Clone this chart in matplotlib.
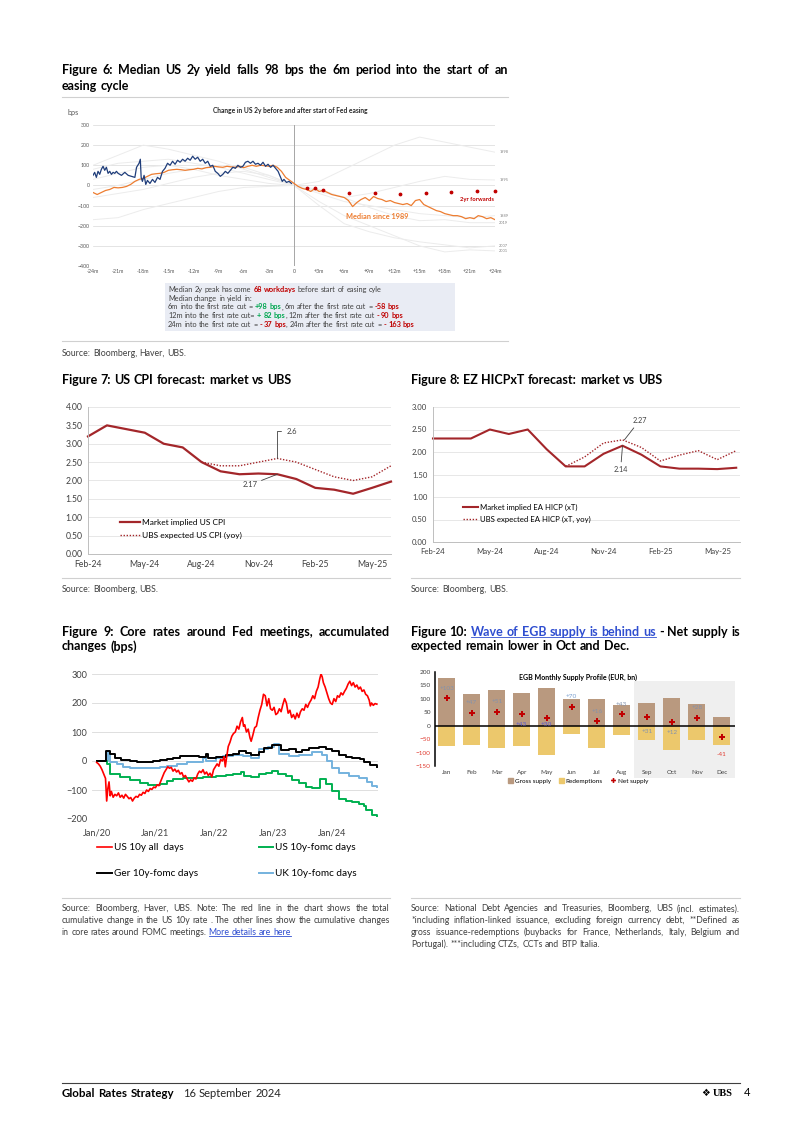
import matplotlib
matplotlib.use("Agg")
import matplotlib.pyplot as plt
from matplotlib.lines import Line2D
from matplotlib.patches import Patch

# -----------------------------------
# Datos - Figure 6 (US 2y around first Fed cut, bps)
# -----------------------------------
cyc_m = [-24, -21, -18, -15, -12, -9, -6, -3, 0, 3, 6, 9, 12, 15, 18, 21, 24]
cyc_names = ["1998", "1995", "1989", "2019", "2007", "2001"]
c1998 = [-60, -40, -20, 10, 40, 60, 70, 50, 0, 20, 80, 140, 200, 240, 215, 190, 165]
c1995 = [100, 150, 200, 180, 150, 120, 80, 40, 0, -30, -60, -40, -10, 20, 45, 30, 27]
c1989 = [80, 110, 120, 130, 110, 90, 60, 30, 0, -40, -80, -100, -120, -140, -150, -160, -150]
c2019 = [30, 60, 90, 100, 80, 50, 30, 10, 0, -20, -60, -110, -150, -175, -170, -185, -185]
c2007 = [-20, 0, 30, 60, 80, 100, 90, 50, 0, -100, -190, -230, -260, -280, -295, -310, -300]
c2001 = [-170, -160, -120, -90, -60, -30, -10, -5, 0, -80, -150, -200, -250, -300, -330, -320, -325]
cycles = [c1998, c1995, c1989, c2019, c2007, c2001]

cur_m = [-24.0, -23.8, -23.6, -23.4, -23.2, -23.0, -22.8, -22.6, -22.4, -22.2, -22.0, -21.8,
         -21.6, -21.4, -21.2, -21.0, -20.6, -20.2, -19.8, -19.4, -19.0, -18.8, -18.5, -18.35,
         -18.25, -18.1, -17.9, -17.7, -17.5, -17.2, -16.9, -16.6, -16.3, -16.0, -15.7, -15.4,
         -15.1, -14.8, -14.5, -14.2, -13.9, -13.6, -13.3, -13.0, -12.7, -12.4, -12.1, -11.8,
         -11.5, -11.2, -10.9, -10.6, -10.3, -10.0, -9.7, -9.4, -9.1, -8.8, -8.5, -8.2, -7.9,
         -7.6, -7.3, -7.0, -6.7, -6.4, -6.1, -5.8, -5.5, -5.2, -4.9, -4.6, -4.3, -4.0, -3.7,
         -3.4, -3.1, -2.8, -2.5, -2.2, -1.9, -1.6, -1.4, -1.2, -0.9, -0.6, -0.3]
cur_bps = [50, 65, 40, 70, 55, 80, 95, 75, 90, 60, 70, 55,
           65, 60, 70, 60, 50, 65, 50, 45, 40, 90, 110, 130,
           40, 20, 50, 5, 25, 10, 30, 15, 40, 30, 70, 85,
           110, 100, 120, 105, 125, 115, 130, 120, 135, 125, 145, 130,
           140, 120, 130, 110, 120, 95, 100, 70, 60, 45, 55, 70, 60,
           75, 90, 85, 100, 90, 95, 115, 120, 110, 120, 105, 110, 100, 115,
           95, 105, 90, 100, 85, 70, 40, 20, 30, 15, 20, 10]

med_m = [-24, -23.5, -23, -22.5, -22, -21.5, -21, -20.5, -20, -19.5, -19, -18.5, -18, -17.5,
         -17, -16.5, -16, -15.5, -15, -14.5, -14, -13.5, -13, -12.5, -12, -11.5, -11, -10.5,
         -10, -9.5, -9, -8.5, -8, -7.5, -7, -6.5, -6, -5.5, -5, -4.5, -4, -3.5, -3, -2.5, -2,
         -1.5, -1, -0.5, 0, 0.5, 1, 1.5, 2, 2.5, 3, 3.5, 4, 4.5, 5, 5.5, 6, 6.5, 7, 7.5, 8,
         8.5, 9, 9.5, 10, 10.5, 11, 11.5, 12, 12.5, 13, 13.5, 14, 14.5, 15, 15.5, 16, 16.5,
         17, 17.5, 18, 18.5, 19, 19.5, 20, 20.5, 21, 21.5, 22, 22.5, 23, 23.5, 24]
med_bps = [-35, -45, -35, -25, -20, -10, -12, -10, -5, 5, 20, 30, 35, 45,
           55, 58, 60, 65, 75, 78, 80, 78, 75, 78, 80, 85, 82, 88,
           90, 95, 92, 90, 95, 92, 90, 95, 88, 95, 100, 95, 100, 98, 95, 100, 90,
           70, 40, 25, 10, -5, -15, -20, -30, -15, -30, -25, -35, -45, -50, -55, -60, -75, -105, -85, -70,
           -60, -75, -55, -65, -70, -80, -75, -85, -90, -95, -90, -100, -75, -70, -95, -105, -115,
           -125, -130, -140, -145, -150, -150, -155, -165, -160, -165, -150, -155, -165, -160, -170]

fwd_m = [1.5, 2.5, 3.5, 6.6, 9.7, 12.7, 15.8, 18.8, 21.9, 24.0]
fwd_bps = [-12, -15, -25, -38, -40, -43, -40, -35, -30, -28]

# -----------------------------------
# Datos - Figures 7 y 8 (inflation forecasts, %)
# -----------------------------------
meses = ["Feb-24", "Mar-24", "Apr-24", "May-24", "Jun-24", "Jul-24", "Aug-24", "Sep-24",
         "Oct-24", "Nov-24", "Dec-24", "Jan-25", "Feb-25", "Mar-25", "Apr-25", "May-25", "Jun-25"]
us_mkt = [3.20, 3.50, 3.40, 3.30, 3.00, 2.90, 2.50, 2.25, 2.17, 2.19, 2.17, 2.04, 1.80, 1.75, 1.64, 1.80, 1.97]
us_ubs = [2.50, 2.40, 2.40, 2.50, 2.60, 2.50, 2.30, 2.10, 2.00, 2.10, 2.40]          # from Aug-24
ea_mkt = [2.30, 2.30, 2.30, 2.50, 2.40, 2.50, 2.06, 1.68, 1.68, 1.96, 2.14, 1.94, 1.68, 1.63, 1.63, 1.62, 1.65]
ea_ubs = [1.68, 1.89, 2.20, 2.27, 2.10, 1.80, 1.93, 2.03, 1.83, 2.03]                # from Sep-24

# -----------------------------------
# Datos - Figure 9 (cumulative change, bps)
# -----------------------------------
us_all_t = [2020.00, 2020.03, 2020.06, 2020.09, 2020.12, 2020.15, 2020.17, 2020.19, 2020.21, 2020.23,
            2020.25, 2020.28, 2020.31, 2020.34, 2020.37, 2020.40, 2020.43, 2020.46, 2020.49, 2020.52,
            2020.55, 2020.58, 2020.61, 2020.64, 2020.67, 2020.70, 2020.73, 2020.76, 2020.79, 2020.82,
            2020.85, 2020.88, 2020.91, 2020.94, 2020.97, 2021.00, 2021.03, 2021.06, 2021.09, 2021.12,
            2021.15, 2021.18, 2021.21, 2021.24, 2021.27, 2021.30, 2021.33, 2021.36, 2021.39, 2021.42,
            2021.45, 2021.48, 2021.51, 2021.54, 2021.57, 2021.60, 2021.63, 2021.66, 2021.69, 2021.72,
            2021.75, 2021.78, 2021.81, 2021.84, 2021.87, 2021.90, 2021.93, 2021.96, 2021.99, 2022.02,
            2022.05, 2022.08, 2022.11, 2022.14, 2022.17, 2022.19, 2022.21, 2022.24, 2022.27, 2022.30,
            2022.33, 2022.36, 2022.39, 2022.42, 2022.45, 2022.48, 2022.50, 2022.52, 2022.55, 2022.58,
            2022.61, 2022.63, 2022.66, 2022.69, 2022.72, 2022.75, 2022.78, 2022.81, 2022.84, 2022.87,
            2022.90, 2022.93, 2022.96, 2022.99, 2023.02, 2023.05, 2023.08, 2023.11, 2023.14, 2023.17,
            2023.20, 2023.23, 2023.26, 2023.29, 2023.32, 2023.35, 2023.38, 2023.41, 2023.44, 2023.47,
            2023.50, 2023.53, 2023.56, 2023.59, 2023.62, 2023.65, 2023.68, 2023.71, 2023.74, 2023.77,
            2023.80, 2023.82, 2023.84, 2023.86, 2023.89, 2023.92, 2023.95, 2023.98, 2024.01, 2024.04,
            2024.07, 2024.10, 2024.13, 2024.16, 2024.19, 2024.22, 2024.25, 2024.28, 2024.31, 2024.34,
            2024.37, 2024.40, 2024.43, 2024.46, 2024.49, 2024.52, 2024.55, 2024.58, 2024.61, 2024.64,
            2024.66, 2024.68, 2024.71, 2024.74, 2024.77]
us_all_v = [-5, -10, -18, -30, -45, -60, -138, -95, -72, -120,
            -105, -125, -115, -120, -110, -125, -118, -128, -115, -122,
            -130, -126, -138, -128, -122, -125, -115, -118, -108, -112,
            -100, -105, -95, -98, -90, -92, -82, -85, -70, -55,
            -40, -30, -20, -25, -22, -35, -28, -38, -32, -45,
            -40, -55, -50, -62, -72, -65, -70, -58, -62, -45,
            -35, -40, -30, -45, -38, -50, -42, -55, -30, -20,
            -10, -18, 5, 0, 15, -20, 10, 50, 65, 85,
            95, 100, 120, 110, 135, 150, 120, 125, 100, 110,
            80, 68, 90, 115, 120, 150, 175, 195, 230, 225,
            190, 215, 180, 175, 185, 160, 165, 180, 170, 195,
            215, 200, 165, 175, 150, 160, 145, 165, 150, 170,
            180, 175, 195, 185, 200, 210, 225, 215, 240, 255,
            285, 300, 290, 270, 255, 235, 215, 200, 195, 215,
            205, 225, 220, 235, 228, 240, 250, 265, 275, 260,
            270, 255, 262, 248, 255, 240, 245, 230, 225, 210,
            190, 200, 192, 198, 196]

us_fomc_t = [2020.00, 2020.17, 2020.23, 2020.40, 2020.56, 2020.73, 2020.88, 2021.07, 2021.19, 2021.30,
             2021.47, 2021.64, 2021.81, 2022.03, 2022.20, 2022.32, 2022.46, 2022.51, 2022.63, 2022.77,
             2022.88, 2022.99, 2023.08, 2023.22, 2023.33, 2023.45, 2023.56, 2023.67, 2023.81, 2023.90,
             2024.01, 2024.12, 2024.24, 2024.35, 2024.46, 2024.55, 2024.58, 2024.69, 2024.77]
us_fomc_v = [0, -10, -45, -55, -65, -75, -83, -78, -70, -62,
             -58, -58, -55, -52, -48, -45, -38, -50, -55, -45,
             -40, -35, -45, -52, -65, -75, -88, -92, -62, -80,
             -105, -130, -138, -142, -148, -155, -170, -185, -190]

ger_t = [2020.00, 2020.16, 2020.23, 2020.31, 2020.42, 2020.56, 2020.68, 2020.96, 2021.07, 2021.19,
         2021.30, 2021.41, 2021.75, 2021.86, 2021.90, 2022.03, 2022.20, 2022.32, 2022.43, 2022.54,
         2022.63, 2022.77, 2022.85, 2022.99, 2023.14, 2023.28, 2023.39, 2023.50, 2023.62, 2023.79,
         2023.90, 2024.01, 2024.12, 2024.24, 2024.35, 2024.49, 2024.55, 2024.66, 2024.77]
ger_v = [0, 35, 25, 12, 5, 0, -3, 0, 3, 8,
         12, 18, 15, 25, 12, 15, 20, 25, 35, 28,
         20, 30, 45, 55, 38, 40, 30, 38, 45, 48,
         42, 35, 22, 15, 10, 8, -5, -15, -22]

uk_t = [2020.00, 2020.17, 2020.20, 2020.23, 2020.34, 2020.45, 2020.56, 2021.07, 2021.19, 2021.36,
        2021.53, 2021.69, 2021.81, 2021.86, 2022.03, 2022.15, 2022.32, 2022.49, 2022.63, 2022.77,
        2022.91, 2023.02, 2023.11, 2023.28, 2023.45, 2023.67, 2023.84, 2023.93, 2024.01, 2024.12,
        2024.29, 2024.46, 2024.60, 2024.69, 2024.77]
uk_v = [0, 0, 30, -2, -10, -20, -25, -22, -18, -12,
        -5, -2, 10, 0, 10, 18, 20, 18, 12, 42,
        50, 58, 25, 18, 22, 30, 20, 0, -25, -40,
        -50, -60, -72, -85, -88]

# -----------------------------------
# Datos - Figure 10 (EGB supply, EUR bn)
# -----------------------------------
meses_egb = ["Jan", "Feb", "Mar", "Apr", "May", "Jun", "Jul", "Aug", "Sep", "Oct", "Nov", "Dec"]
gross = [178, 118, 133, 120, 139, 101, 98, 77, 85, 103, 81, 31]
redemp = [-75, -71, -82, -76, -108, -31, -82, -35, -54, -92, -52, -71]
net = [103, 47, 51, 43, 30, 70, 16, 43, 31, 12, 28, -41]

# -----------------------------------
# Configuración general
# -----------------------------------
W, H = 802, 1134
plt.rcParams["font.family"] = ["Lato", "DejaVu Sans"]
fig = plt.figure(figsize=(W / 100, H / 100), dpi=100)
bg = fig.add_axes([0, 0, 1, 1])
bg.set_xlim(0, W)
bg.set_ylim(H, 0)
bg.axis("off")
R = fig.canvas.get_renderer()

LINK = "#2f4ed0"
TITLE = 9
BODY = 6.3


def box(x0, y0, x1, y1):
    return [x0 / W, 1 - y1 / H, (x1 - x0) / W, (y1 - y0) / H]


def text_w(s, size, weight="normal"):
    t = bg.text(0, 0, s, fontsize=size, fontweight=weight)
    w = t.get_window_extent(R).width
    t.remove()
    return w


def run(s, color="#000000", weight="normal", link=False):
    return (s, color, weight, link)


def draw_line(x0, yc, runs, size, x1=None):
    # split runs into words; pieces without a space before stay glued
    units = []
    space = True
    for s, col, wt, link in runs:
        for i, p in enumerate(s.split(" ")):
            if i > 0:
                space = True
            if not p:
                continue
            if space or not units:
                units.append([])
            units[-1].append((p, col, wt, link))
            space = False
    widths = [[text_w(p, size, wt) for p, col, wt, lk in u] for u in units]
    uw = [sum(w) for w in widths]
    sp = text_w("a a", size) - text_w("aa", size)
    natural = sum(uw) + sp * (len(units) - 1)
    if x1 is not None and natural > (x1 - x0):
        return draw_line(x0, yc, runs, size * (x1 - x0) / natural * 0.995, x1)
    gap = sp
    if x1 is not None and len(units) > 1:
        gap = (x1 - x0 - sum(uw)) / (len(units) - 1)
    base = yc + 0.36 * size * 100 / 72
    x = x0
    lk0, lk1, lkc = None, None, None
    for u, ws in zip(units, widths):
        for (p, col, wt, link), pw in zip(u, ws):
            bg.text(x, base, p, fontsize=size, color=col, fontweight=wt, va="baseline", ha="left")
            if link:
                lk0 = x if lk0 is None else lk0
                lk1, lkc = x + pw, col
            x += pw
        x += gap
    if lk0 is not None:
        bg.plot([lk0, lk1], [base + 1.3, base + 1.3], color=lkc, lw=0.6)


def hline(x0, x1, y, color="#d0d0d0", lw=0.8):
    bg.plot([x0, x1], [y, y], color=color, lw=lw)


def legend_at(ax, handles, labels, x, yc, size, hl_px, pad_px, row_px, ncol=1):
    em = size * 100 / 72
    return ax.legend(handles, labels, loc="upper left", ncol=ncol,
                     bbox_to_anchor=(x / W, 1 - (yc - 0.6 * em) / H),
                     bbox_transform=fig.transFigure, frameon=False, fontsize=size,
                     handlelength=hl_px / em, handletextpad=pad_px / em,
                     labelspacing=max(row_px - 1.2 * em, 0) / em,
                     borderpad=0, borderaxespad=0)


def clean(ax):
    for s in ax.spines.values():
        s.set_visible(False)


# -----------------------------------
# Figure 6
# -----------------------------------
draw_line(62, 70, [run("Figure 6: Median US 2y yield falls 98 bps the 6m period into the start of an", weight="bold")], TITLE, 508)
draw_line(62, 85, [run("easing cycle", weight="bold")], TITLE)
hline(62, 508, 97)

bg.text(68, 112, "bps", fontsize=5.2, color="#595959", va="center")
bg.text(290, 110, "Change in US 2y before and after start of Fed easing", fontsize=4.8,
        fontweight="bold", color="#262626", ha="center", va="center")

ax6 = fig.add_axes(box(93, 125, 495, 266))
for vals, name in zip(cycles, cyc_names):
    ax6.plot(cyc_m, vals, color="#ececec", lw=0.7, zorder=1)
    ax6.text(24.5, vals[-1], name, fontsize=2.8, color="#808080", va="center", ha="left")
ax6.axvline(0, color="#a6a6a6", lw=0.7, zorder=2)
ax6.plot(med_m, med_bps, color="#ed7d31", lw=0.9, zorder=3)
ax6.plot(cur_m, cur_bps, color="#1f3d7a", lw=0.9, zorder=4)
ax6.scatter(fwd_m, fwd_bps, s=3, color="#c00000", zorder=5, clip_on=False)
ax6.text(21.8, -68, "2yr forwards", fontsize=4.2, color="#c00000", fontweight="bold", ha="center", va="center")
ax6.text(9.9, -156, "Median since 1989", fontsize=5.3, color="#ed7d31", fontweight="bold", ha="center", va="center")
ax6.set_xlim(-24, 24)
ax6.set_ylim(-400, 300)
ax6.set_xticks(range(-24, 25, 3))
ax6.set_xticklabels([("0" if m == 0 else ("%+dm" % m)) for m in range(-24, 25, 3)])
ax6.set_yticks(range(-400, 301, 100))
ax6.yaxis.grid(True, color="#d9d9d9", lw=0.5)
ax6.set_axisbelow(True)
ax6.tick_params(length=0, labelsize=3.8, colors="#595959", pad=2.5)
clean(ax6)

bg.add_patch(plt.Rectangle((165, 283), 290, 48, color="#e9ecf4", lw=0))
dk, rd, gn = "#404040", "#c00000", "#00a650"
box_lines = [
    [run("Median 2y peak has come ", dk), run("68 workdays", rd, "bold"), run(" before start of easing cyle", dk)],
    [run("Median change in yield in:", dk)],
    [run("6m into the first rate cut = ", dk), run("+98 bps", gn, "bold"), run(", 6m after the first rate cut = ", dk), run("-58 bps", rd, "bold")],
    [run("12m into the first rate cut= ", dk), run("+ 82 bps", gn, "bold"), run(", 12m after the first rate cut  ", dk), run("- 90 bps", rd, "bold")],
    [run("24m into the first rate cut = ", dk), run("- 37 bps", rd, "bold"), run(", 24m after the first rate cut = ", dk), run("- 163 bps", rd, "bold")],
]
for i, ln in enumerate(box_lines):
    draw_line(168, 289 + i * 8.9, ln, 5.3)

hline(62, 508, 341)
draw_line(62, 353, [run("Source: Bloomberg, Haver, UBS.", "#404040")], BODY)

# -----------------------------------
# Figure 7
# -----------------------------------
draw_line(62, 380, [run("Figure 7: US CPI forecast: market vs UBS", weight="bold")], TITLE)
RED = "#a3262a"
ax7 = fig.add_axes(box(88, 407, 391, 554))
x_us = list(range(len(us_mkt)))
x_ubs = x_us[len(us_mkt) - len(us_ubs):]
l1, = ax7.plot(x_us, us_mkt, color=RED, lw=1.6, clip_on=False)
l2, = ax7.plot(x_ubs, us_ubs, color=RED, lw=1.0, ls=(0, (1, 1.2)), clip_on=False)
ax7.annotate("2.6", xy=(10, 2.6), xytext=(10.5, 3.34), fontsize=5.5, color="#404040", va="center",
             arrowprops=dict(arrowstyle="-", color="#404040", lw=0.6, shrinkA=2, shrinkB=0,
                             connectionstyle="angle,angleA=0,angleB=90,rad=0"))
ax7.annotate("2.17", xy=(10, 2.17), xytext=(8.55, 1.88), fontsize=5.5, color="#404040",
             ha="center", va="center",
             arrowprops=dict(arrowstyle="-", color="#404040", lw=0.6, shrinkA=1, shrinkB=0))
ax7.set_xlim(0, 16)
ax7.set_ylim(0, 4)
ax7.set_yticks([i * 0.5 for i in range(9)])
ax7.set_yticklabels(["%.2f" % (i * 0.5) for i in range(9)])
ax7.set_xticks(range(0, 17, 3))
ax7.set_xticklabels(meses[::3])
ax7.yaxis.grid(True, color="#e3e3e3", lw=0.6)
ax7.set_axisbelow(True)
ax7.tick_params(length=0, labelsize=6.2, colors="#404040", pad=4)
clean(ax7)
for s in ("left", "bottom"):
    ax7.spines[s].set_visible(True)
    ax7.spines[s].set_color("#bfbfbf")
    ax7.spines[s].set_linewidth(0.7)
legend_at(ax7, [l1, l2], ["Market implied US CPI", "UBS expected US CPI (yoy)"], 120, 524, 6, 20, 2, 16)
hline(62, 390, 578)
draw_line(62, 589, [run("Source: Bloomberg, UBS.", "#404040")], BODY)

# -----------------------------------
# Figure 8
# -----------------------------------
draw_line(411, 380, [run("Figure 8: EZ HICPxT forecast: market vs UBS", weight="bold")], TITLE)
ax8 = fig.add_axes(box(433, 407, 740, 542))
x_ea = list(range(len(ea_mkt)))
x_eu = x_ea[len(ea_mkt) - len(ea_ubs):]
m1, = ax8.plot(x_ea, ea_mkt, color=RED, lw=1.5, clip_on=False)
m2, = ax8.plot(x_eu, ea_ubs, color=RED, lw=1.0, ls=(0, (1, 1.2)), clip_on=False)
ax8.annotate("2.27", xy=(10.1, 2.27), xytext=(10.9, 2.70), fontsize=5.2, color="#404040",
             ha="center", va="center",
             arrowprops=dict(arrowstyle="-", color="#404040", lw=0.6, shrinkA=1, shrinkB=0))
ax8.annotate("2.14", xy=(10, 2.14), xytext=(9.9, 1.61), fontsize=5.2, color="#404040",
             ha="center", va="center",
             arrowprops=dict(arrowstyle="-", color="#404040", lw=0.6, shrinkA=1, shrinkB=0))
ax8.set_xlim(0, 16.2)
ax8.set_ylim(0, 3)
ax8.set_yticks([i * 0.5 for i in range(7)])
ax8.set_yticklabels(["%.2f" % (i * 0.5) for i in range(7)])
ax8.set_xticks(range(0, 17, 3))
ax8.set_xticklabels(meses[::3])
ax8.yaxis.grid(True, color="#e3e3e3", lw=0.6)
ax8.set_axisbelow(True)
ax8.tick_params(length=0, labelsize=5.6, colors="#404040", pad=4)
clean(ax8)
for s in ("left", "bottom"):
    ax8.spines[s].set_visible(True)
    ax8.spines[s].set_color("#bfbfbf")
    ax8.spines[s].set_linewidth(0.7)
legend_at(ax8, [m1, m2], ["Market implied EA HICP (xT)", "UBS expected EA HICP (xT, yoy)"], 463, 508, 5.6, 15, 2, 15)
hline(411, 740, 578)
draw_line(411, 589, [run("Source: Bloomberg, UBS.", "#404040")], BODY)

# -----------------------------------
# Figure 9
# -----------------------------------
draw_line(62, 631, [run("Figure 9: Core rates around Fed meetings, accumulated", weight="bold")], TITLE, 390)
draw_line(62, 646, [run("changes (bps)", weight="bold")], TITLE)
ax9 = fig.add_axes(box(92, 674, 378, 819))
r1, = ax9.plot(us_all_t, us_all_v, color="#ff0000", lw=1.2, zorder=4)
g1, = ax9.step(us_fomc_t, us_fomc_v, where="post", color="#00b050", lw=1.4, zorder=3)
k1, = ax9.step(ger_t, ger_v, where="post", color="#000000", lw=1.4, zorder=3)
b1, = ax9.step(uk_t, uk_v, where="post", color="#74b2de", lw=1.4, zorder=2)
ax9.set_xlim(2019.92, 2024.79)
ax9.set_ylim(-200, 300)
ax9.set_yticks(range(-200, 301, 100))
ax9.set_xticks([2020, 2021, 2022, 2023, 2024])
ax9.set_xticklabels(["Jan/20", "Jan/21", "Jan/22", "Jan/23", "Jan/24"])
ax9.yaxis.grid(True, color="#d9d9d9", lw=0.6)
ax9.set_axisbelow(True)
ax9.tick_params(length=0, labelsize=6.6, colors="#404040")
ax9.tick_params(axis="x", pad=7)
clean(ax9)
bg.text(99, 683, "bps", fontsize=5, fontweight="bold", va="center")
lg1 = legend_at(ax9, [r1, k1], ["US 10y all  days", "Ger 10y-fomc days"], 97, 849, 7.2, 15, 2, 29)
ax9.add_artist(lg1)
legend_at(ax9, [g1, b1], ["US 10y-fomc days", "UK 10y-fomc days"], 259, 849, 7.2, 14, 2, 29)

hline(62, 390, 898)
src9 = [
    [run("Source: Bloomberg, Haver, UBS. Note: The red line in the chart shows the total", "#404040")],
    [run("cumulative change in the US 10y rate . The other lines show the cumulative changes", "#404040")],
    [run("in core rates around FOMC meetings. ", "#404040"), run("More details are here", LINK, link=True)],
]
for i, ln in enumerate(src9):
    draw_line(62, 908 + i * 12, ln, BODY, 390 if i < 2 else None)

# -----------------------------------
# Figure 10
# -----------------------------------
draw_line(411, 631, [run("Figure 10: ", weight="bold"), run("Wave of EGB supply is behind us", LINK, "bold", True),
                     run(" - Net supply is", weight="bold")], TITLE, 740)
draw_line(411, 646, [run("expected remain lower in Oct and Dec.", weight="bold")], TITLE)

ax10 = fig.add_axes(box(435, 672, 735, 766))
ax10.patch.set_visible(False)
xm = list(range(len(meses_egb)))
ax10.axvspan(7.5, 11.53, ymin=-0.13, ymax=0.9, color="#efefef", lw=0, clip_on=False, zorder=0)
ax10.bar(xm, gross, width=0.68, color="#b9997f", zorder=2)
ax10.bar(xm, redemp, width=0.68, color="#ecc86c", zorder=2)
ax10.scatter(xm, net, marker="P", s=14, color="#c00000", zorder=4, linewidths=0)
lab_off = [37, 38, 40, -37, -24, 40, 38, 35, -52, -37, 38, -67]
lab_col = ["#8392ad"] * 12
lab_col[3] = lab_col[4] = "#5a5ad0"
lab_col[5] = "#7aa0d0"
lab_col[11] = "#e03c31"
for i, v in enumerate(net):
    ax10.text(i, v + lab_off[i], "%+d" % v, fontsize=4.6, color=lab_col[i], ha="center", va="center", zorder=5)
ax10.axhline(0, color="#000000", lw=1.1, zorder=3)
ax10.set_xlim(-0.47, 11.53)
ax10.set_ylim(-150, 200)
ax10.set_yticks(range(-150, 201, 50))
ax10.set_xticks(xm)
ax10.set_xticklabels(meses_egb)
ax10.tick_params(length=0, labelsize=4.6, colors="#404040", pad=3)
for t in ax10.get_yticklabels():
    if t.get_text().startswith("-") or t.get_text().startswith("\u2212"):
        t.set_color("#e03c31")
clean(ax10)
ax10.spines["left"].set_visible(True)
ax10.spines["left"].set_color("#000000")
ax10.spines["left"].set_linewidth(1.1)
bg.text(578, 677, "EGB Monthly Supply Profile (EUR, bn)", fontsize=5, fontweight="bold",
        ha="center", va="center")
hdl = [Patch(color="#b9997f"), Patch(color="#ecc86c"),
       Line2D([], [], marker="P", color="#c00000", ls="none", ms=3.5, mew=0)]
ax10.legend(hdl, ["Gross supply", "Redemptions", "Net supply"], loc="upper center", ncol=3,
            bbox_to_anchor=(578 / W, 1 - 778 / H), bbox_transform=fig.transFigure, frameon=False,
            fontsize=4.6, handlelength=0.8, handleheight=0.8, handletextpad=0.3,
            columnspacing=1.2, borderpad=0, borderaxespad=0)

hline(411, 740, 898)
src10 = [
    "Source: National Debt Agencies and Treasuries, Bloomberg, UBS (incl. estimates).",
    "*including inflation-linked issuance, excluding foreign currency debt, **Defined as",
    "gross issuance-redemptions (buybacks for France, Netherlands, Italy, Belgium and",
    "Portugal). ***including CTZs, CCTs and BTP Italia.",
]
for i, s in enumerate(src10):
    draw_line(411, 908 + i * 12, [run(s, "#404040")], BODY, 740 if i < 3 else None)

# -----------------------------------
# Pie de página
# -----------------------------------
hline(62, 740, 1083, color="#404040", lw=0.8)
draw_line(62, 1093, [run("Global Rates Strategy", weight="bold")], 8.3)
draw_line(183, 1093, [run("16 September 2024", "#262626")], 8)
bg.text(706, 1093, "\u2756", fontsize=7, va="center", ha="center", family="DejaVu Sans")
bg.text(713, 1093, "UBS", fontsize=7.5, va="center", ha="left", fontweight="bold", family="Liberation Serif")
bg.text(744, 1093, "4", fontsize=8, va="center", ha="left")

fig.savefig("out.png", dpi=100)
